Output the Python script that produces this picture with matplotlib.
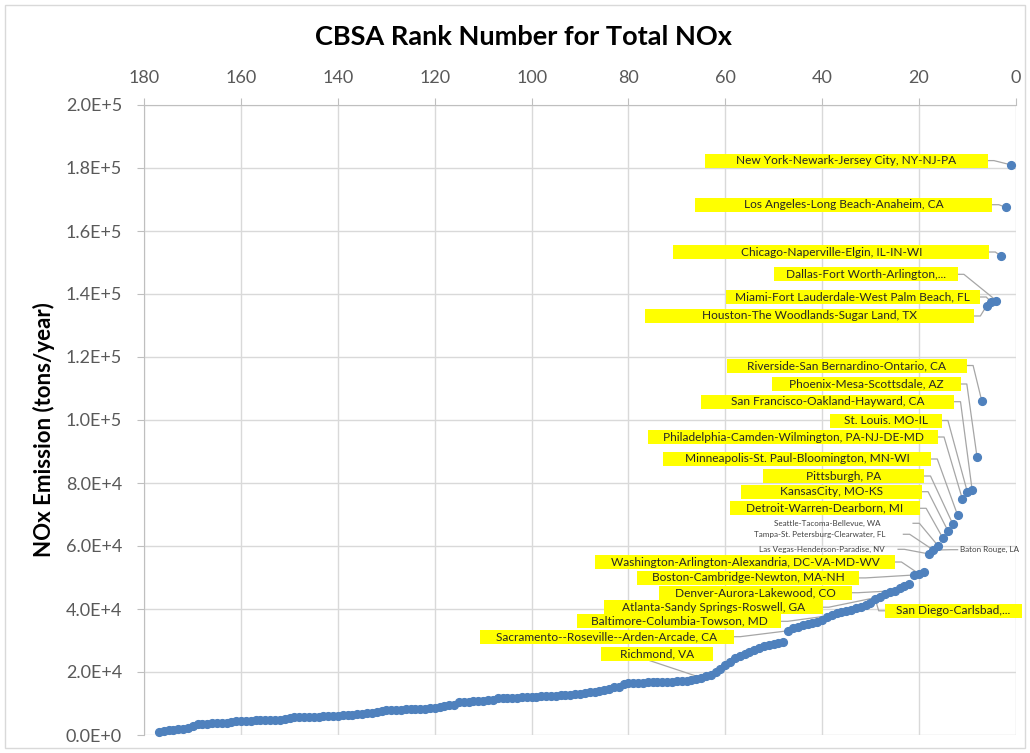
import numpy as np
import matplotlib.pyplot as plt
from matplotlib.patches import Rectangle
from matplotlib.ticker import MultipleLocator, FuncFormatter

plt.rcParams['font.family'] = ['Lato', 'DejaVu Sans']

# CBSA rank (1 = largest) and total NOx emission, tons/year
nox = [
    181000, 167500, 152000, 137900, 137400, 136300, 106000, 88400, 77800, 77200,
    74800, 69800, 67000, 64800, 62400, 60000, 58700, 57500, 51800, 51200,
    50800, 47900, 47300, 46600, 45800, 45300, 44900, 43900, 43100, 42000,
    41300, 40600, 40200, 39800, 39400, 39100, 38600, 38000, 37500, 36600,
    36000, 35600, 35200, 34900, 34300, 33900, 33100, 29600, 29300, 29000,
    28700, 28200, 27600, 26900, 26200, 25800, 25000, 24300, 23200, 22200,
    21100, 20100, 19200, 18600, 18200, 17800, 17500, 17300, 17200, 17000,
    16900, 16900, 16800, 16800, 16700, 16700, 16600, 16600, 16500, 16400,
    16300, 15300, 15100, 14600, 14300, 14100, 13800, 13500, 13200, 13000,
    12900, 12800, 12700, 12600, 12500, 12400, 12300, 12300, 12200, 12100,
    12000, 12000, 11900, 11900, 11900, 11900, 11800, 11200, 11100, 10900,
    10800, 10700, 10600, 10600, 10500, 9600, 9500, 9100, 8800, 8600,
    8500, 8400, 8300, 8200, 8200, 8100, 8000, 7900, 7900, 7800,
    7500, 7300, 7100, 6900, 6800, 6700, 6500, 6300, 6200, 6100,
    6000, 5900, 5900, 5800, 5800, 5700, 5700, 5600, 5600, 5500,
    5000, 4900, 4900, 4800, 4800, 4700, 4700, 4600, 4600, 4500,
    4300, 4000, 3900, 3800, 3700, 3700, 3600, 3600, 3500, 3000,
    2200, 2000, 1900, 1700, 1500, 1300, 1100,
]
rank = np.arange(1, len(nox) + 1)

# labelled CBSAs and the rank of the point each one points to
label_names = [
    "New York-Newark-Jersey City, NY-NJ-PA", "Los Angeles-Long Beach-Anaheim, CA",
    "Chicago-Naperville-Elgin, IL-IN-WI", "Dallas-Fort Worth-Arlington,...",
    "Miami-Fort Lauderdale-West Palm Beach, FL", "Houston-The Woodlands-Sugar Land, TX",
    "Riverside-San Bernardino-Ontario, CA", "Phoenix-Mesa-Scottsdale, AZ",
    "San Francisco-Oakland-Hayward, CA", "St. Louis. MO-IL",
    "Philadelphia-Camden-Wilmington, PA-NJ-DE-MD", "Minneapolis-St. Paul-Bloomington, MN-WI",
    "Pittsburgh, PA", "KansasCity, MO-KS", "Detroit-Warren-Dearborn, MI",
    "Seattle-Tacoma-Bellevue, WA", "Tampa-St. Petersburg-Clearwater, FL",
    "Las Vegas-Henderson-Paradise, NV", "Baton Rouge, LA",
    "Washington-Arlington-Alexandria, DC-VA-MD-WV", "Boston-Cambridge-Newton, MA-NH",
    "Denver-Aurora-Lakewood, CO", "Atlanta-Sandy Springs-Roswell, GA",
    "Baltimore-Columbia-Towson, MD", "Sacramento--Roseville--Arden-Arcade, CA",
    "Richmond, VA", "San Diego-Carlsbad,...",
]
label_ranks = [1, 2, 3, 4, 5, 6, 7, 8, 9, 10, 11, 12, 13, 14, 15, 16, 17, 18, 17,
               20, 21, 25, 28, 38, 47, 65, 29]

# label layout: box left / right (rank units), box centre (tons), leader side
box_left = [64.2, 66.2, 70.7, 49.9, 59.9, 76.6, 59.6, 50.4, 65.0, 38.4, 75.9, 72.8,
            52.1, 56.8, 59.0, 49.0, 52.0, 50.0, 11.5, 86.9, 78.3, 73.6, 85.0, 90.6,
            110.7, 85.6, 27.0]
box_right = [5.8, 4.8, 5.5, 12.0, 7.4, 8.6, 10.1, 11.4, 12.7, 15.3, 16.1, 17.5,
             18.9, 19.4, 19.8, 27.9, 26.9, 27.0, 0.0, 24.9, 32.3, 33.9, 39.9, 48.4,
             58.2, 62.5, -1.2]
box_y = [182350, 168350, 153330, 146250, 139050, 133020, 117300, 111430, 105810,
         99840, 94600, 87620, 82220, 77240, 71970, 67210, 63720, 58950, 58830,
         54920, 49870, 45170, 40570, 36090, 31210, 25810, 39430]
boxed = [True] * 15 + [False] * 4 + [True] * 8
side = ['right'] * 15 + ['right', 'right', 'right', 'left'] + ['right'] * 6 + ['bottom', 'left']
leader_start = [None] * 15 + [21.2, 23.2, 24.3, 12.0] + [None] * 8

fig = plt.figure(figsize=(10.3, 7.53), dpi=100)
ax = fig.add_axes([144.3 / 1030, 1 - 735 / 753, 871.4 / 1030, 630 / 753])

grid_c = '#d9d9d9'
ax.set_xlim(180, 0)
ax.set_ylim(0, 200000)
ax.xaxis.set_major_locator(MultipleLocator(20))
ax.yaxis.set_major_locator(MultipleLocator(20000))


def sci(v, pos):
    m, e = f"{v:.1E}".split('E')
    return f"{m}E{int(e):+d}"


ax.yaxis.set_major_formatter(FuncFormatter(sci))
ax.xaxis.tick_top()
ax.grid(True, color=grid_c, lw=1)
ax.set_axisbelow(True)
for s in ['right', 'bottom']:
    ax.spines[s].set_visible(False)
for s in ['left', 'top']:
    ax.spines[s].set_color('#bfbfbf')
ax.tick_params(axis='x', top=True, bottom=False, length=5, color='#bfbfbf',
               labelsize=13, labelcolor='#595959', pad=9)
ax.tick_params(axis='y', length=5, color='#bfbfbf', labelsize=13,
               labelcolor='#595959', pad=11)

# leader lines and labels
h = 7 * 200000 / 630
lead_c = '#a6a6a6'
for i, name in enumerate(label_names):
    r = label_ranks[i]
    xp, yp = r, nox[r - 1]
    l, rr, y = box_left[i], box_right[i], box_y[i]
    if side[i] == 'right':
        x0 = rr if leader_start[i] is None else leader_start[i]
        xs = [x0, x0 - 1.3, xp]
        ys = [y, y, yp]
    elif side[i] == 'left':
        x0 = l if leader_start[i] is None else leader_start[i]
        xs = [x0, x0 + 1.3, xp]
        ys = [y, y, yp]
    else:
        x0 = (l + rr) / 2 + 1.5
        xs = [x0, xp]
        ys = [y - h, yp]
    ax.plot(xs, ys, color=lead_c, lw=0.9, zorder=3, clip_on=False)
    if boxed[i]:
        ax.add_patch(Rectangle((rr, y - h), l - rr, 2 * h, facecolor='#ffff00',
                               edgecolor='none', zorder=4, clip_on=False))
        ax.text((l + rr) / 2, y, name, ha='center', va='center', fontsize=8.6,
                color='#262626', zorder=5, clip_on=False)
    elif side[i] == 'left':
        ax.text(l, y, name, ha='left', va='center', fontsize=5.8,
                color='#404040', zorder=5)
    else:
        ax.text(rr, y, name, ha='right', va='center', fontsize=5.8,
                color='#404040', zorder=5)

ax.plot(rank, nox, 'o', color='#4f81bd', ms=5.6, mec='#4f81bd', zorder=6, clip_on=False)

fig.text(523 / 1030, 1 - 37 / 753, "CBSA Rank Number for Total NOx", ha='center',
         va='center', fontsize=19.5, fontweight='bold', color='#000000')
fig.text(44 / 1030, 1 - 430 / 753, "NOx Emission (tons/year)", rotation=90,
         ha='center', va='center', fontsize=16, fontweight='bold', color='#000000')

fig.patches.append(Rectangle((5 / 1030, 5 / 753), 1020 / 1030, 743 / 753,
                             transform=fig.transFigure, fill=False,
                             edgecolor='#d9d9d9', lw=1))

fig.savefig('out.png', dpi=100)
